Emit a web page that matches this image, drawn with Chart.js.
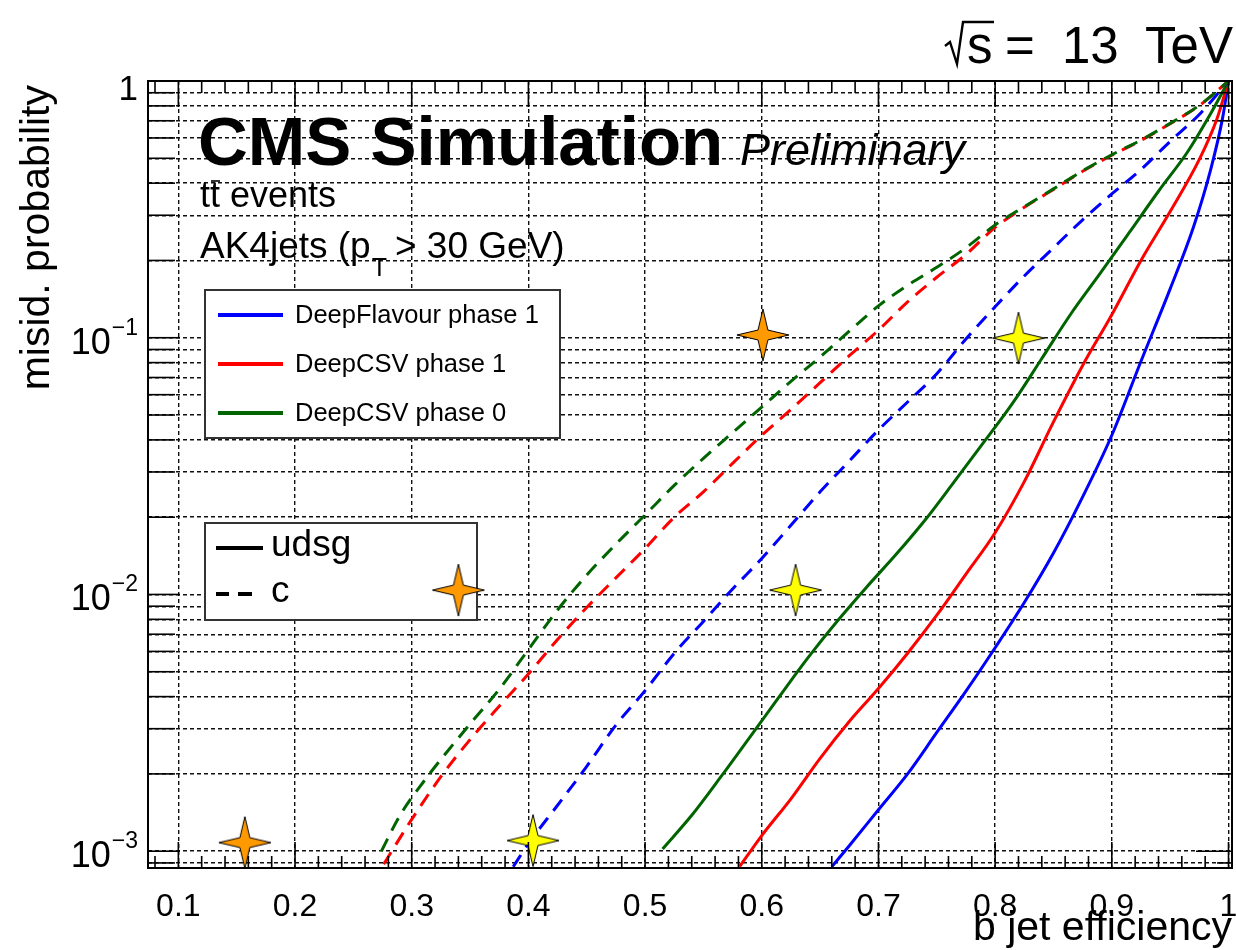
<!DOCTYPE html>
<html>
<head>
<meta charset="utf-8">
<script src="https://cdn.jsdelivr.net/npm/chart.js@4.4.1/dist/chart.umd.min.js"></script>
<style>
  html, body { margin: 0; padding: 0; background: #fff; }
  #wrap { width: 1236px; height: 950px; }
</style>
</head>
<body>
<div id="wrap"><canvas id="c" width="1236" height="950"></canvas></div>
<script>
// ---- data ----
// x = b jet efficiency, y = misid. probability

// DeepFlavour phase 1
const dfUdsgX = [0.660, 0.675, 0.700, 0.725, 0.750, 0.775, 0.800, 0.825, 0.850, 0.875, 0.900, 0.925, 0.950, 0.970, 0.985, 0.995, 1.0];
const dfUdsgY = [0.00087, 0.00105, 0.00145, 0.0020, 0.0029, 0.0042, 0.0062, 0.0093, 0.0145, 0.024, 0.0417, 0.081, 0.155, 0.27, 0.457, 0.72, 1.0];
const dfCX = [0.387, 0.400, 0.425, 0.450, 0.475, 0.500, 0.525, 0.550, 0.575, 0.600, 0.625, 0.650, 0.675, 0.700, 0.725, 0.750, 0.775, 0.800, 0.825, 0.850, 0.875, 0.900, 0.925, 0.950, 0.975, 1.0];
const dfCY = [0.00087, 0.00107, 0.00151, 0.00214, 0.0031, 0.00422, 0.0059, 0.00785, 0.0105, 0.0138, 0.0186, 0.0251, 0.0331, 0.0437, 0.0562, 0.0724, 0.0989, 0.132, 0.174, 0.224, 0.288, 0.363, 0.452, 0.582, 0.741, 1.0];

// DeepCSV phase 1
const csv1UdsgX = [0.581, 0.600, 0.625, 0.650, 0.675, 0.700, 0.725, 0.750, 0.775, 0.800, 0.825, 0.850, 0.875, 0.900, 0.925, 0.950, 0.975, 0.990, 1.0];
const csv1UdsgY = [0.00087, 0.00115, 0.0016, 0.0023, 0.0032, 0.0043, 0.0059, 0.0083, 0.0120, 0.0174, 0.0275, 0.047, 0.078, 0.123, 0.20, 0.31, 0.495, 0.71, 1.0];
const csv1CX = [0.276, 0.300, 0.325, 0.350, 0.375, 0.400, 0.425, 0.450, 0.475, 0.500, 0.525, 0.550, 0.575, 0.600, 0.625, 0.650, 0.675, 0.700, 0.725, 0.750, 0.775, 0.800, 0.825, 0.850, 0.875, 0.900, 0.925, 0.950, 0.975, 1.0];
const csv1CY = [0.00089, 0.00133, 0.00195, 0.00272, 0.00367, 0.0049, 0.00668, 0.0089, 0.0116, 0.0151, 0.020, 0.0251, 0.0324, 0.0417, 0.0525, 0.0668, 0.0851, 0.107, 0.138, 0.172, 0.211, 0.269, 0.322, 0.378, 0.445, 0.514, 0.587, 0.682, 0.802, 1.0];

// DeepCSV phase 0
const csv0UdsgX = [0.515, 0.540, 0.565, 0.590, 0.615, 0.640, 0.665, 0.690, 0.715, 0.740, 0.765, 0.790, 0.815, 0.840, 0.865, 0.890, 0.915, 0.940, 0.965, 0.985, 1.0];
const csv0UdsgY = [0.00102, 0.00138, 0.00195, 0.00279, 0.0040, 0.0057, 0.0079, 0.0107, 0.0143, 0.0195, 0.0275, 0.039, 0.0556, 0.083, 0.124, 0.178, 0.257, 0.372, 0.53, 0.75, 1.0];
const csv0CX = [0.274, 0.290, 0.310, 0.330, 0.350, 0.375, 0.400, 0.425, 0.450, 0.475, 0.500, 0.525, 0.550, 0.575, 0.600, 0.625, 0.650, 0.675, 0.700, 0.725, 0.750, 0.775, 0.800, 0.825, 0.850, 0.875, 0.900, 0.925, 0.950, 0.975, 1.0];
const csv0CY = [0.00100, 0.00138, 0.00186, 0.00243, 0.00313, 0.00427, 0.0061, 0.0087, 0.0119, 0.0157, 0.0204, 0.0266, 0.0339, 0.0427, 0.0537, 0.0676, 0.0841, 0.106, 0.133, 0.160, 0.188, 0.224, 0.275, 0.324, 0.380, 0.447, 0.516, 0.589, 0.684, 0.804, 1.0];

// star markers
const orangeStarX = [0.157, 0.340, 0.601];
const orangeStarY = [0.00108, 0.0104, 0.1025];
const yellowStarX = [0.404, 0.629, 0.820];
const yellowStarY = [0.00110, 0.0104, 0.0997];

// axes
const xTickVals = [0.1, 0.2, 0.3, 0.4, 0.5, 0.6, 0.7, 0.8, 0.9, 1];
const xTickLabels = ['0.1', '0.2', '0.3', '0.4', '0.5', '0.6', '0.7', '0.8', '0.9', '1'];
const yDecades = [0.001, 0.01, 0.1, 1];
const yDecadeExp = ['-3', '-2', '-1', ''];
const X_MIN = 0.074, X_MAX = 1.003, Y_MIN = 0.00086, Y_MAX = 1;

const legendNames = ['DeepFlavour phase 1', 'DeepCSV phase 1', 'DeepCSV phase 0'];
const legendColors = ['#0000ff', '#ff0000', '#006400'];

// grid positions: every mantissa 1..9 on the log axis
const yGridVals = [];
for (let e = -4; e <= 0; e++) {
  for (let m = 1; m <= 9; m++) {
    const v = +(m * Math.pow(10, e)).toPrecision(3);
    if (v >= Y_MIN && v <= Y_MAX) yGridVals.push(v);
  }
}
const xMinorVals = [];
for (let i = 4; i <= 50; i++) xMinorVals.push(+(i * 0.02).toFixed(2));

const FONT = '"Liberation Sans", Arial, Helvetica, sans-serif';

function makeStar(fill) {
  const size = 56, c = document.createElement('canvas');
  c.width = size; c.height = size;
  const g = c.getContext('2d');
  const cx = size / 2, r = 26, ri = 7;
  g.beginPath();
  for (let i = 0; i < 8; i++) {
    const ang = -Math.PI / 2 + i * Math.PI / 4;
    const rr = i % 2 ? ri : r;
    g.lineTo(cx + rr * Math.cos(ang), cx + rr * Math.sin(ang));
  }
  g.closePath();
  g.fillStyle = fill; g.fill();
  g.lineWidth = 1; g.strokeStyle = '#000'; g.stroke();
  return c;
}

function curve(label, xs, ys, color, dashed) {
  return {
    label,
    data: xs.map((x, i) => ({x, y: ys[i]})),
    showLine: true,
    borderColor: color,
    borderWidth: 3,
    borderDash: dashed ? [14, 9] : [],
    pointRadius: 0,
    cubicInterpolationMode: 'monotone',
    fill: false
  };
}

// the star image is drawn at its own size, radius only keeps layout padding small
function stars(label, xs, ys, img) {
  return {
    label,
    data: xs.map((x, i) => ({x, y: ys[i]})),
    showLine: false,
    pointStyle: img,
    pointRadius: 1,
    pointHoverRadius: 1,
    clip: false
  };
}

function line(ctx, x1, y1, x2, y2) {
  ctx.beginPath(); ctx.moveTo(x1, y1); ctx.lineTo(x2, y2); ctx.stroke();
}

const decor = {
  id: 'decor',
  beforeDraw(chart) {
    const ctx = chart.ctx;
    ctx.save();
    ctx.fillStyle = '#fff';
    ctx.fillRect(0, 0, chart.width, chart.height);
    ctx.restore();
  },
  beforeDatasetsDraw(chart) {
    const ctx = chart.ctx;
    ctx.save();
    ctx.fillStyle = '#000';
    ctx.textBaseline = 'alphabetic';
    ctx.textAlign = 'left';

    // CMS Simulation Preliminary
    ctx.font = 'bold 69px ' + FONT;
    ctx.fillText('CMS Simulation', 198, 165);
    ctx.font = 'italic 45px ' + FONT;
    ctx.fillText('Preliminary', 740, 165);

    // tt events
    ctx.font = '36px ' + FONT;
    ctx.fillText('tt events', 200, 207);
    const tW = ctx.measureText('t').width;
    ctx.lineWidth = 1.6; ctx.strokeStyle = '#000';
    line(ctx, 200 + tW + 1, 181, 200 + 2 * tW, 181);

    // AK4jets (pT > 30 GeV)
    ctx.font = '37px ' + FONT;
    ctx.fillText('AK4jets (p', 200, 258);
    let xx = 200 + ctx.measureText('AK4jets (p').width;
    ctx.font = '25px ' + FONT;
    ctx.fillText('T', xx + 1, 276);
    xx += ctx.measureText('T').width + 9;
    ctx.font = '37px ' + FONT;
    ctx.fillText('> 30 GeV)', xx, 258);

    // legend box 1
    ctx.fillStyle = '#fff';
    ctx.fillRect(205, 290, 355, 148);
    ctx.strokeStyle = '#333'; ctx.lineWidth = 2;
    ctx.strokeRect(205, 290, 355, 148);
    const ly = [315, 364, 413];
    legendNames.forEach((n, i) => {
      ctx.strokeStyle = legendColors[i]; ctx.lineWidth = 4; ctx.setLineDash([]);
      line(ctx, 218, ly[i], 283, ly[i]);
      ctx.fillStyle = '#000'; ctx.font = '25.5px ' + FONT; ctx.textBaseline = 'middle';
      ctx.fillText(n, 295, ly[i] + 1);
    });

    // legend box 2
    ctx.fillStyle = '#fff';
    ctx.fillRect(205, 523, 272, 97);
    ctx.strokeStyle = '#333'; ctx.lineWidth = 2;
    ctx.strokeRect(205, 523, 272, 97);
    ctx.strokeStyle = '#000'; ctx.lineWidth = 4;
    line(ctx, 216, 548, 263, 548);
    line(ctx, 216, 594, 229, 594);
    line(ctx, 238, 594, 252, 594);
    ctx.fillStyle = '#000'; ctx.font = '37px ' + FONT; ctx.textBaseline = 'middle';
    ctx.fillText('udsg', 271, 546);
    ctx.fillText('c', 271, 592);
    ctx.restore();
  },
  afterDatasetsDraw(chart) {
    const {ctx, chartArea: a, scales: {x, y}} = chart;
    ctx.save();
    ctx.setLineDash([]);
    ctx.strokeStyle = '#000';
    ctx.lineWidth = 1.6;
    // ticks on the y axes
    yGridVals.forEach(v => {
      const py = y.getPixelForValue(v);
      const major = yDecades.includes(v);
      line(ctx, a.left, py, a.left + (major ? 32 : 27), py);
      line(ctx, a.right, py, a.right - (major ? 36 : 15), py);
    });
    // ticks on the x axes
    xMinorVals.forEach(v => {
      const px = x.getPixelForValue(v);
      if (px < a.left || px > a.right) return;
      const major = Math.abs(v * 10 - Math.round(v * 10)) < 1e-6;
      const len = major ? 26 : 12;
      line(ctx, px, a.bottom, px, a.bottom - len);
      line(ctx, px, a.top, px, a.top + len);
    });
    // frame
    ctx.lineWidth = 2;
    ctx.strokeRect(a.left, a.top, a.right - a.left, a.bottom - a.top);
    ctx.restore();
  },
  afterDraw(chart) {
    const {ctx, chartArea: a, scales: {x, y}} = chart;
    ctx.save();
    ctx.fillStyle = '#000';

    // x tick labels
    ctx.font = '32px ' + FONT;
    ctx.textAlign = 'center'; ctx.textBaseline = 'middle';
    xTickVals.forEach((v, i) => ctx.fillText(xTickLabels[i], x.getPixelForValue(v), 907));

    // y tick labels
    yDecades.forEach((v, i) => {
      const py = y.getPixelForValue(v);
      const xr = 138;
      if (yDecadeExp[i] === '') {
        ctx.font = '35px ' + FONT; ctx.textAlign = 'right'; ctx.textBaseline = 'alphabetic';
        ctx.fillText('1', xr, py + 19);
        return;
      }
      const ex = '\u2212' + yDecadeExp[i].replace('-', '');
      ctx.font = '23px ' + FONT;
      const eW = ctx.measureText(ex).width;
      ctx.textAlign = 'left'; ctx.textBaseline = 'alphabetic';
      ctx.fillText(ex, xr - eW, py - 3);
      ctx.font = '36px ' + FONT;
      const bW = ctx.measureText('10').width;
      ctx.fillText('10', xr - eW - bW - 1, py + 16);
    });

    // axis titles
    ctx.font = '41px ' + FONT;
    ctx.textAlign = 'right'; ctx.textBaseline = 'alphabetic';
    ctx.fillText('b jet efficiency', a.right, 940);
    ctx.save();
    ctx.translate(49, a.top + 4);
    ctx.rotate(-Math.PI / 2);
    ctx.fillText('misid. probability', 0, 0);
    ctx.restore();

    // sqrt(s) = 13 TeV, drawn piece by piece like TLatex
    ctx.font = '51px ' + FONT;
    ctx.textAlign = 'left';
    ctx.fillText('s', 967, 63);
    ctx.fillText('=', 1005, 63);
    ctx.fillText('13', 1062, 63);
    ctx.textAlign = 'right';
    ctx.fillText('TeV', a.right + 1, 63);
    ctx.strokeStyle = '#000'; ctx.lineWidth = 2.4; ctx.lineJoin = 'miter';
    ctx.beginPath();
    ctx.moveTo(945, 46); ctx.lineTo(950, 42); ctx.lineTo(957, 64);
    ctx.lineTo(963, 22); ctx.lineTo(994, 22);
    ctx.stroke();
    ctx.restore();
  }
};

const orangeImg = makeStar('#ff9900');
const yellowImg = makeStar('#ffff00');

new Chart(document.getElementById('c'), {
  type: 'scatter',
  data: {
    datasets: [
      stars('orange', orangeStarX, orangeStarY, orangeImg),
      stars('yellow', yellowStarX, yellowStarY, yellowImg),
      curve('DeepCSV phase 0 c', csv0CX, csv0CY, legendColors[2], true),
      curve('DeepCSV phase 1 c', csv1CX, csv1CY, legendColors[1], true),
      curve('DeepFlavour phase 1 c', dfCX, dfCY, legendColors[0], true),
      curve('DeepCSV phase 0 udsg', csv0UdsgX, csv0UdsgY, legendColors[2], false),
      curve('DeepCSV phase 1 udsg', csv1UdsgX, csv1UdsgY, legendColors[1], false),
      curve('DeepFlavour phase 1 udsg', dfUdsgX, dfUdsgY, legendColors[0], false)
    ]
  },
  options: {
    responsive: false,
    animation: false,
    devicePixelRatio: 1,
    layout: { padding: { left: 0, right: 4, top: 81, bottom: 0 } },
    plugins: { legend: { display: false }, tooltip: { enabled: false } },
    scales: {
      x: {
        type: 'linear', min: X_MIN, max: X_MAX,
        afterBuildTicks: s => { s.ticks = xTickVals.map(v => ({value: v})); },
        afterFit: s => { s.height = 82; },
        ticks: { display: false },
        grid: { color: '#111', lineWidth: 1.4, drawTicks: false },
        border: { display: false, dash: [4, 3] }
      },
      y: {
        type: 'logarithmic', min: Y_MIN, max: Y_MAX,
        afterBuildTicks: s => { s.ticks = yGridVals.map(v => ({value: v})); },
        afterFit: s => { s.width = 148; },
        ticks: { display: false },
        grid: { color: '#111', lineWidth: 1.4, drawTicks: false },
        border: { display: false, dash: [4, 3] }
      }
    }
  },
  plugins: [decor]
});
</script>
</body>
</html>
